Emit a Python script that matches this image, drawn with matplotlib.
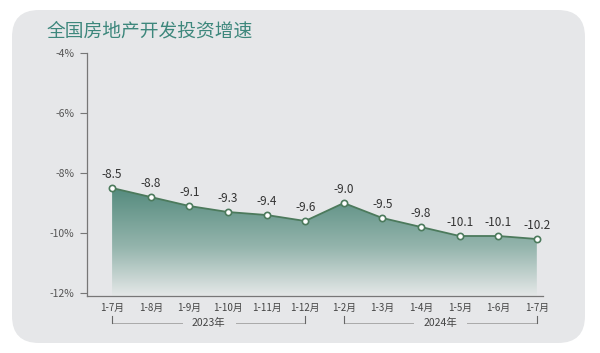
import matplotlib.pyplot as plt
import numpy as np
from matplotlib.patches import FancyBboxPatch, Polygon
from matplotlib.colors import LinearSegmentedColormap
import matplotlib.transforms as mtransforms

plt.rcParams['font.family'] = ['Noto Sans CJK SC', 'DejaVu Sans']

months = ['1-7月', '1-8月', '1-9月', '1-10月', '1-11月', '1-12月',
          '1-2月', '1-3月', '1-4月', '1-5月', '1-6月', '1-7月']
growth = [-8.5, -8.8, -9.1, -9.3, -9.4, -9.6,
          -9.0, -9.5, -9.8, -10.1, -10.1, -10.2]
yticks = [-4, -6, -8, -10, -12]
years = ['2023年', '2024年']
year_span = [(0, 5), (6, 11)]

fig = plt.figure(figsize=(6, 3.53), dpi=100)
fig.patch.set_facecolor('white')

# rounded gray panel
panel = FancyBboxPatch((12 / 600, 10 / 353), 573 / 600, 333 / 353,
                       boxstyle='round,pad=0,rounding_size=0.045',
                       transform=fig.transFigure, facecolor='#e6e7e9',
                       edgecolor='none', zorder=-10, mutation_aspect=600 / 353)
fig.patches.append(panel)

fig.text(47 / 600, 1 - 31 / 353, '全国房地产开发投资增速', fontsize=13.5,
         color='#3d877c', va='center', ha='left')

ax = fig.add_axes([87 / 600, 57 / 353, 456 / 600, 243 / 353])
ax.set_facecolor('none')
x = np.arange(len(growth))
ax.set_xlim(-0.65, 11.16)
ax.set_ylim(-12.1, -4)

# gradient fill under the line
cmap = LinearSegmentedColormap.from_list(
    'g', [(0, '#e5e8e8'), (0.45, '#95b5ad'), (1, '#558b7e')])
grad = np.linspace(0, 1, 256).reshape(-1, 1)
img = ax.imshow(grad, extent=[x[0], x[-1], -12.1, -8.5], origin='lower',
                aspect='auto', cmap=cmap, zorder=1)
poly = Polygon(np.vstack([np.column_stack([x, growth]),
                          [[x[-1], -12.1], [x[0], -12.1]]]),
               closed=True, facecolor='none', edgecolor='none')
ax.add_patch(poly)
img.set_clip_path(poly)

ax.plot(x, growth, color='#4c7a5c', lw=1.3, zorder=3,
        marker='o', ms=4.5, mfc='white', mec='#4c7a5c', mew=1.2)
for xi, v in zip(x, growth):
    ax.annotate(f'{v:.1f}', (xi, v), xytext=(0, 5), textcoords='offset points',
                ha='center', va='bottom', fontsize=8.5, color='#333333')

ax.set_yticks(yticks)
ax.set_yticklabels([f'{t}%' for t in yticks], fontsize=7.5, color='#555555')
ax.tick_params(axis='y', direction='out', length=5, color='#777777', pad=4)
ax.set_xticks(x)
ax.set_xticklabels(months, fontsize=7, color='#444444')
ax.tick_params(axis='x', length=0, pad=5)
for s in ['top', 'right']:
    ax.spines[s].set_visible(False)
for s in ['left', 'bottom']:
    ax.spines[s].set_color('#777777')
    ax.spines[s].set_linewidth(0.9)

# year brackets
trans = mtransforms.blended_transform_factory(ax.transData, fig.transFigure)
yb = 1 - 323 / 353
yt = 1 - 316 / 353
for label, (a, b) in zip(years, year_span):
    mid = (a + b) / 2
    gap = 0.7
    ax.plot([a, mid - gap], [yb, yb], transform=trans, color='#aaaaaa',
            lw=0.7, clip_on=False)
    ax.plot([mid + gap, b], [yb, yb], transform=trans, color='#aaaaaa',
            lw=0.7, clip_on=False)
    for e in (a, b):
        ax.plot([e, e], [yb, yt], transform=trans, color='#666666',
                lw=0.8, clip_on=False)
    ax.text(mid, yb, label, transform=trans, ha='center', va='center',
            fontsize=7.5, color='#444444')

fig.savefig('out.png', dpi=100)
